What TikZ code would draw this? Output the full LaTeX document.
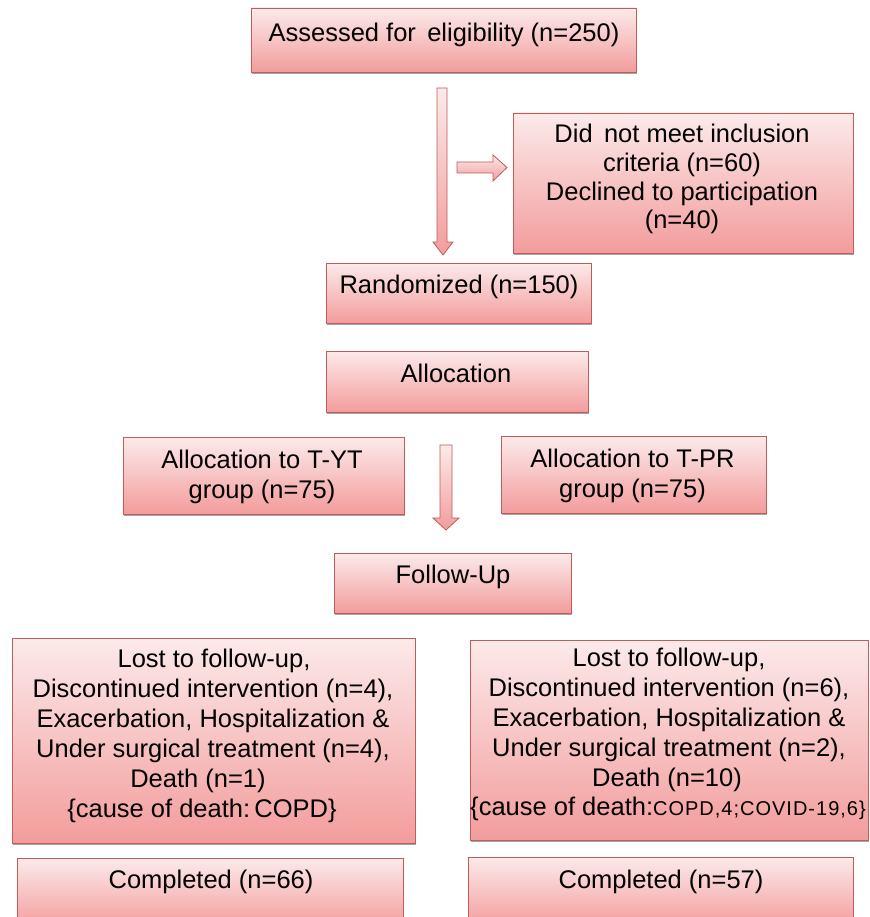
\documentclass[tikz,border=0pt]{standalone}
\usepackage{fontspec}
\setmainfont{Liberation Sans}
\usetikzlibrary{shadows}
\definecolor{boxtop}{RGB}{252,234,234}
\definecolor{boxbot}{RGB}{243,156,156}
\definecolor{boxline}{RGB}{190,92,90}
\begin{document}
\begin{tikzpicture}[x=1pt,y=-1pt,
  box/.style={rectangle, inner sep=0pt, draw=boxline, line width=0.9pt,
    top color=boxtop, bottom color=boxbot,
    drop shadow={shadow xshift=1.2pt, shadow yshift=-2.2pt, opacity=0.35, fill=black}},
  txt/.style={inner sep=0pt, anchor=base, font=\fontsize{25.5}{30}\selectfont},
  barrow/.style={draw=boxline, line width=0.8pt, line join=miter,
    top color=boxtop, bottom color=boxbot}]
\useasboundingbox (0,0) rectangle (869,917);
\clip (0,0) rectangle (869,917);
\fill[white] (0,0) rectangle (869,917);

% boxes
\node[box, minimum width=385pt, minimum height=64pt]  (assess) at (443.5,40) {};
\node[box, minimum width=340pt, minimum height=140pt] (excl)   at (683,183) {};
\node[box, minimum width=265pt, minimum height=60pt]  (rand)   at (458.5,293) {};
\node[box, minimum width=262pt, minimum height=61pt]  (alloc)  at (457,381.5) {};
\node[box, minimum width=281pt, minimum height=77pt]  (tyt)    at (263.5,475.5) {};
\node[box, minimum width=265pt, minimum height=77pt]  (tpr)    at (633.5,474.5) {};
\node[box, minimum width=237pt, minimum height=60pt]  (follow) at (452.5,583) {};
\node[box, minimum width=403pt, minimum height=205pt] (lostL)  at (213.5,740.5) {};
\node[box, minimum width=398pt, minimum height=200pt] (lostR)  at (669,740) {};
\node[box, minimum width=386pt, minimum height=70pt]  (compL)  at (210,893) {};
\node[box, minimum width=385pt, minimum height=70pt]  (compR)  at (660.5,892) {};

% block arrows
\path[barrow] (437,88) -- (447,88) -- (447,242) -- (453,242) -- (443,255)
  -- (433,242) -- (437,242) -- cycle;
\path[barrow] (457,162) -- (493,162) -- (493,155) -- (507,167.5) -- (493,181)
  -- (493,173) -- (457,173) -- cycle;
\path[barrow] (440,445) -- (452,445) -- (452,518) -- (459,518) -- (446,530)
  -- (433,518) -- (440,518) -- cycle;

% texts
\node[txt] (tassess) at (444,42) {Assessed for \,eligibility (n=250)};

\node[txt] (texcl1) at (682,143) {Did \,not meet inclusion};
\node[txt] (texcl2) at (682,171.7) {criteria (n=60)};
\node[txt] (texcl3) at (682,200.4) {Declined to participation};
\node[txt] (texcl4) at (682,229) {(n=40)};

\node[txt] (trand) at (459,293) {Randomized (n=150)};
\node[txt] (talloc) at (456,382) {Allocation};

\node[txt] (ttyt1) at (262,468) {Allocation to T-YT};
\node[txt] (ttyt2) at (262,498) {group (n=75)};
\node[txt] (ttpr1) at (632.5,467) {Allocation to T-PR};
\node[txt] (ttpr2) at (632.5,497) {group (n=75)};

\node[txt] (tfollow) at (453,583) {Follow-Up};

\node[txt] (tl1) at (214,667) {Lost to follow-up,};
\node[txt] (tl2) at (213,697) {Discontinued intervention (n=4),};
\node[txt] (tl3) at (213,727) {Exacerbation, Hospitalization \&};
\node[txt] (tl4) at (213,757) {Under surgical treatment (n=4),};
\node[txt] (tl5) at (198,787) {Death (n=1)};
\node[txt] (tl6) at (202,817) {\{cause of death:\,COPD\}};

\node[txt] (tr1) at (669,666) {Lost to follow-up,};
\node[txt] (tr2) at (669,696) {Discontinued intervention (n=6),};
\node[txt] (tr3) at (669,726) {Exacerbation, Hospitalization \&};
\node[txt] (tr4) at (669,756) {Under surgical treatment (n=2),};
\node[txt] (tr5) at (667,786) {Death (n=10)};
\node[txt] (tr6) at (668,815) {\{cause of death:{\fontsize{20}{30}\selectfont\addfontfeatures{LetterSpace=5}COPD,4;COVID-19,6\}}};

\node[txt] (tcompL) at (211,888) {Completed (n=66)};
\node[txt] (tcompR) at (661,888) {Completed (n=57)};
\end{tikzpicture}
\end{document}
